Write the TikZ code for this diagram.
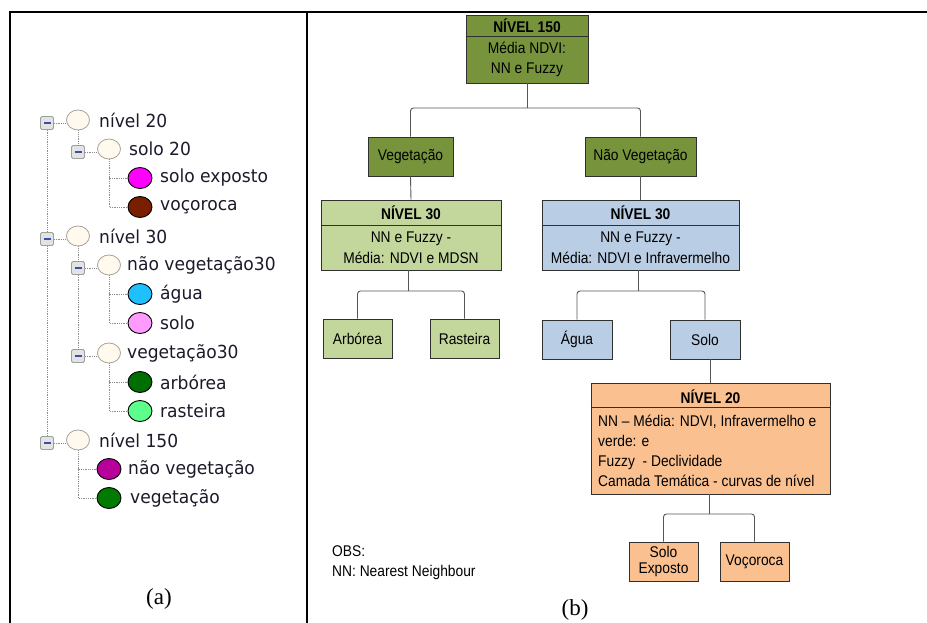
\documentclass[tikz,border=0pt]{standalone}
\usepackage{fontspec}
\newfontfamily\arialf[FakeStretch=0.89]{Liberation Sans}
\newfontfamily\treef[FakeStretch=0.95]{DejaVu Sans}
\newfontfamily\timesf{Liberation Serif}
\usetikzlibrary{shapes.geometric,calc}
\definecolor{cOlive}{HTML}{77933C}
\definecolor{cLgreen}{HTML}{C3D69B}
\definecolor{cLblue}{HTML}{B9CDE5}
\definecolor{cOrange}{HTML}{FAC090}
\definecolor{cBorder}{HTML}{303030}
\definecolor{cConn}{HTML}{555555}
\definecolor{cDot}{HTML}{8C8C8C}
\definecolor{cCream}{HTML}{FFF9EE}
\definecolor{cCreamB}{HTML}{A8A296}
\definecolor{cMag}{HTML}{FF00FF}
\definecolor{cBrown}{HTML}{7A1E00}
\definecolor{cCyan}{HTML}{1EC0FF}
\definecolor{cPink}{HTML}{FF9BFF}
\definecolor{cDkgreen}{HTML}{006E00}
\definecolor{cLtgreen}{HTML}{5CFF8A}
\definecolor{cPurple}{HTML}{B8009A}
\definecolor{cGreen}{HTML}{007A00}
\definecolor{cMinus}{HTML}{3D50A0}
\definecolor{cTreeTxt}{HTML}{1A1A2A}
\begin{document}
\begin{tikzpicture}[x=1pt,y=-1pt,
  bx/.style={draw=cBorder,line width=0.9pt,inner sep=0pt},
  ttl/.style={font=\arialf\bfseries\fontsize{15.5}{17}\selectfont,inner sep=0pt},
  bodytxt/.style={font=\arialf\fontsize{15.5}{20.5}\selectfont,align=center,inner sep=0pt},
  lab/.style={font=\arialf\fontsize{15.5}{15.5}\selectfont,align=center,inner sep=0pt},
  conn/.style={draw=cConn,line width=0.9pt,rounded corners=3pt},
  emptyc/.style={ellipse,draw=cCreamB,fill=cCream,line width=0.8pt,minimum width=23pt,minimum height=20pt,inner sep=0pt},
  colc/.style={ellipse,draw=black,fill=#1,line width=0.9pt,minimum width=24pt,minimum height=21pt,inner sep=0pt},
  mbox/.style={draw=gray!75,fill=gray!22,line width=0.8pt,rounded corners=1.5pt,minimum size=13pt,inner sep=0pt,
    path picture={\draw[cMinus,line width=1.4pt] ([xshift=-3.5pt]path picture bounding box.center) -- ([xshift=3.5pt]path picture bounding box.center);}},
  tlbl/.style={font=\treef\fontsize{18}{20}\selectfont,text=cTreeTxt,anchor=west,inner sep=0pt},
  tline/.style={draw=cDot,line width=0.8pt,densely dotted},
  caption/.style={font=\timesf\fontsize{23}{24}\selectfont,inner sep=0pt}
]
\useasboundingbox (0,0) rectangle (927,623);
% frame
\draw[line width=1.3pt] (10,623) -- (10,12) -- (927,12);
\draw[line width=1.3pt] (307,12) -- (307,623);

% ---------- (a) tree ----------
\node[mbox] (b0) at (47,123) {};
\node[emptyc] (c0) at (78,120) {};
\node[tlbl] (t0) at (99,120) {nível 20};
\node[mbox] (b1) at (78,152) {};
\node[emptyc] (c1) at (109,149) {};
\node[tlbl] (t1) at (129,149) {solo 20};
\node[colc=cMag] (c2) at (140,178) {};
\node[tlbl] (t2) at (160,178) {solo exposto};
\node[colc=cBrown] (c3) at (140,207) {};
\node[tlbl] (t3) at (160,207) {voçoroca};
\node[mbox] (b4) at (47,239) {};
\node[emptyc] (c4) at (78,236) {};
\node[tlbl] (t4) at (99,236) {nível 30};
\node[mbox] (b5) at (78,268) {};
\node[emptyc] (c5) at (109,265) {};
\node[tlbl] (t5) at (127,265) {não vegetação30};
\node[colc=cCyan] (c6) at (140,294) {};
\node[tlbl] (t6) at (160,294) {água};
\node[colc=cPink] (c7) at (140,323) {};
\node[tlbl] (t7) at (160,323) {solo};
\node[mbox] (b8) at (78,356) {};
\node[emptyc] (c8) at (109,353) {};
\node[tlbl] (t8) at (127,353) {vegetação30};
\node[colc=cDkgreen] (c9) at (140,382) {};
\node[tlbl] (t9) at (160,382) {arbórea};
\node[colc=cLtgreen] (c10) at (140,411) {};
\node[tlbl] (t10) at (160,411) {rasteira};
\node[mbox] (b11) at (47,443) {};
\node[emptyc] (c11) at (78,440) {};
\node[tlbl] (t11) at (99,440) {nível 150};
\node[colc=cPurple] (c12) at (109,469) {};
\node[tlbl] (t12) at (128,469) {não vegetação};
\node[colc=cGreen] (c13) at (109,498) {};
\node[tlbl] (t13) at (130,498) {vegetação};

\path[tline] (b0.south) -- (b4.north) (b4.south) -- (b11.north);
\path[tline] (b0.east) -- (c0.west |- b0.east);
\path[tline] (b4.east) -- (c4.west |- b4.east);
\path[tline] (b11.east) -- (c11.west |- b11.east);
\path[tline] (c0.south) -- (b1.north);
\path[tline] (b1.east) -- (c1.west |- b1.east);
\path[tline] (c1.south) |- (c2.west) (c1.south) |- (c3.west);
\path[tline] (c4.south) -- (b5.north) (b5.south) -- (b8.north);
\path[tline] (b5.east) -- (c5.west |- b5.east);
\path[tline] (b8.east) -- (c8.west |- b8.east);
\path[tline] (c5.south) |- (c6.west) (c5.south) |- (c7.west);
\path[tline] (c8.south) |- (c9.west) (c8.south) |- (c10.west);
\path[tline] (c11.south) |- (c12.west) (c11.south) |- (c13.west);

\node[caption] (capa) at (159,599) {(a)};

% ---------- (b) hierarchy ----------
% NIVEL 150
\node[bx,fill=cOlive,minimum width=122pt,minimum height=68pt] (n150) at (527,49) {};
\coordinate (d150) at (0,36);
\draw[bx] (n150.west |- d150) -- (n150.east |- d150);
\node[ttl] (n150t) at (527,26) {NÍVEL 150};
\node[bodytxt] (n150b) at (527,59.5) {Média NDVI:\\NN e Fuzzy};

% level 2 of top
\node[bx,fill=cOlive,minimum width=85pt,minimum height=39pt,lab] (veg) at (410.5,156.5) {Vegetação};
\node[bx,fill=cOlive,minimum width=111pt,minimum height=39pt,lab] (nveg) at (640.5,156.5) {Não Vegetação};
\coordinate (j1) at (527,108);
\draw[conn] (n150.south) -- (j1);
\draw[conn] (veg.north) |- (j1) -| (nveg.north);

% NIVEL 30 left
\node[bx,fill=cLgreen,minimum width=180pt,minimum height=70pt] (n30l) at (411,235) {};
\coordinate (d30) at (0,225);
\draw[bx] (n30l.west |- d30) -- (n30l.east |- d30);
\node[ttl] (n30lt) at (411,212.5) {NÍVEL 30};
\node[bodytxt] (n30lb) at (411,247.5) {NN e Fuzzy -\\Média: NDVI e MDSN};
\draw[conn] (veg.south) -- (n30l.north);

% NIVEL 30 right
\node[bx,fill=cLblue,minimum width=197pt,minimum height=70pt] (n30r) at (640.5,235) {};
\draw[bx] (n30r.west |- d30) -- (n30r.east |- d30);
\node[ttl] (n30rt) at (640.5,212.5) {NÍVEL 30};
\node[bodytxt] (n30rb) at (640.5,247.5) {NN e Fuzzy -\\Média: NDVI e Infravermelho};
\draw[conn] (nveg.south) -- (n30r.north);

% leaves of N30 left
\node[bx,fill=cLgreen,minimum width=69pt,minimum height=39pt,lab] (arb) at (357.5,338.5) {Arbórea};
\node[bx,fill=cLgreen,minimum width=69pt,minimum height=39pt,lab] (ras) at (464.5,338.5) {Rasteira};
\coordinate (jl) at (408,291);
\draw[conn] (n30l.south -| jl) -- (jl);
\draw[conn] (arb.north) |- (jl) -| (ras.north);

% leaves of N30 right
\node[bx,fill=cLblue,minimum width=70pt,minimum height=39pt,lab] (agua) at (577,339.5) {Água};
\node[bx,fill=cLblue,minimum width=70pt,minimum height=39pt,lab] (solo) at (705,339.5) {Solo};
\coordinate (jr) at (638,291);
\draw[conn] (n30r.south -| jr) -- (jr);
\draw[conn] (agua.north) |- (jr) -| (solo.north);

% NIVEL 20
\node[bx,fill=cOrange,minimum width=239pt,minimum height=111pt] (n20) at (710.5,438.5) {};
\coordinate (d20) at (0,407);
\draw[bx] (n20.west |- d20) -- (n20.east |- d20);
\node[ttl] (n20t) at (710.5,396.5) {NÍVEL 20};
\node[font=\arialf\fontsize{15.5}{20}\selectfont,align=left,inner sep=0pt,anchor=west] (n20b) at (598,451)
  {NN – Média: NDVI, Infravermelho e\\verde: e\\Fuzzy~ - Declividade\\Camada Temática - curvas de nível};
\draw[conn] (n20.north |- solo.south) -- (n20.north);

% leaves of N20
\node[bx,fill=cOrange,minimum width=69pt,minimum height=39pt,lab] (sexp) at (663.5,561.5) {Solo\\Exposto};
\node[bx,fill=cOrange,minimum width=69pt,minimum height=39pt,lab] (voc) at (754.5,561.5) {Voçoroca};
\coordinate (j20) at (709,514);
\draw[conn] (n20.south -| j20) -- (j20);
\draw[conn] (sexp.north) |- (j20) -| (voc.north);

% OBS
\node[font=\arialf\fontsize{15.5}{20}\selectfont,align=left,inner sep=0pt,anchor=west] (obs) at (332,563) {OBS:\\NN: Nearest Neighbour};

\node[caption] (capb) at (575,610) {(b)};
\end{tikzpicture}
\end{document}
